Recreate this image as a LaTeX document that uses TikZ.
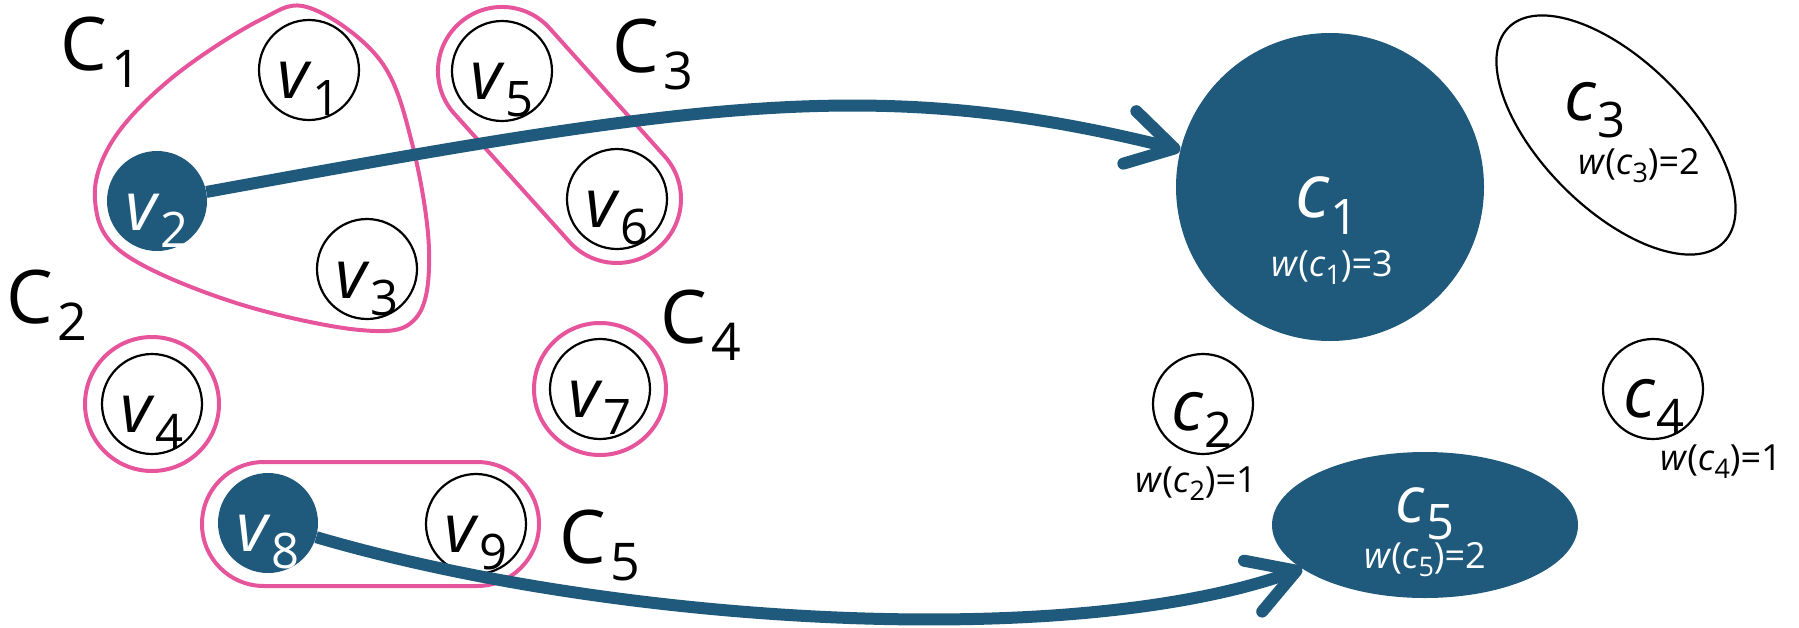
\documentclass[tikz,border=0pt]{standalone}
\usepackage{fontspec}
\setmainfont{Open Sans}
\usetikzlibrary{arrows.meta,shapes.geometric}
\definecolor{cblue}{RGB}{31,90,124}
\definecolor{cpink}{RGB}{230,85,155}
\newcommand\subsc[3]{\raisebox{-#1pt}{\fontsize{#2}{#2}\selectfont #3}}
\newcommand\vlab[1]{\fontsize{68}{68}\selectfont\textit{v}\kern1pt\subsc{17}{49}{#1}}
\newcommand\bigC[1]{\fontsize{74}{74}\selectfont C\kern4pt\subsc{17}{52}{#1}}
\newcommand\clab[2]{\fontsize{#1}{#1}\selectfont\textit{c}\kern1pt\subsc{17}{49}{#2}}
\newcommand\wlab[2]{\fontsize{36}{36}\selectfont\textit{w}(\textit{c}\subsc{8}{27}{#1})=#2}
\begin{document}
\begin{tikzpicture}[x=1pt,y=1pt,
  vert/.style={circle, draw=black, line width=2.2pt, minimum size=100pt, inner sep=0pt, fill=white},
  vfill/.style={circle, fill=cblue, minimum size=100pt, inner sep=0pt},
  hull/.style={draw=cpink, line width=4pt},
  lab/.style={anchor=base, inner sep=0pt},
  link/.style={draw=cblue, line width=12pt, -{Straight Barb[length=46pt,width=54pt,round]}},
]
\useasboundingbox (0,0) rectangle (1799,-627);

% vertices
\node[vert]  (v1) at (309,-70) {};
\node[vfill] (v2) at (157,-201) {};
\node[vert]  (v3) at (367,-269) {};
\node[vert]  (v4) at (152,-404) {};
\node[vert]  (v5) at (502,-71) {};
\node[vert]  (v6) at (617,-199) {};
\node[vert]  (v7) at (600,-389) {};
\node[vfill] (v8) at (268,-523) {};
\node[vert]  (v9) at (476,-524) {};

\node[lab] (v1l) at ([yshift=-28pt]v1.center) {\vlab{1}};
\node[lab, text=white] (v2l) at ([yshift=-29pt]v2.center) {\vlab{2}};
\node[lab] (v3l) at ([yshift=-29pt]v3.center) {\vlab{3}};
\node[lab] (v4l) at ([yshift=-28pt]v4.center) {\vlab{4}};
\node[lab] (v5l) at ([yshift=-28pt]v5.center) {\vlab{5}};
\node[lab] (v6l) at ([yshift=-28pt]v6.center) {\vlab{6}};
\node[lab] (v7l) at ([yshift=-28pt]v7.center) {\vlab{7}};
\node[lab, text=white] (v8l) at ([yshift=-28pt]v8.center) {\vlab{8}};
\node[lab] (v9l) at ([yshift=-28pt]v9.center) {\vlab{9}};

% hulls
\draw[hull] plot[smooth cycle, tension=0.6] coordinates {(310,-8) (380,-60) (412,-143) (429,-250) (416,-318) (360,-330) (233,-302) (123,-253) (95,-200) (113,-140) (173,-77) (260,-20)};
\begin{scope}[shift={(502,-71)}, rotate=-48.06]
  \draw[hull, rounded corners=63.9pt] (-64,-64) rectangle (236,64);
\end{scope}
\draw[hull] (v4.center) circle[radius=67pt];
\draw[hull] (v7.center) circle[radius=66pt];
\draw[hull, rounded corners=61.9pt] (202,-462) rectangle (539,-586);

% cluster labels
\node[lab] (C1l) at (101,-70) {\bigC{1}};
\node[lab] (C2l) at (47,-323) {\bigC{2}};
\node[lab] (C3l) at (653,-72) {\bigC{3}};
\node[lab] (C4l) at (701,-343) {\bigC{4}};
\node[lab] (C5l) at (600,-563) {\bigC{5}};

% contracted graph
\node[circle, fill=cblue, minimum size=308pt, inner sep=0pt] (c1) at (1330,-187) {};
\node[vert] (c2) at (1203,-404) {};
\node[draw, line width=2.2pt, ellipse, minimum width=304pt, minimum height=148pt, inner sep=0pt, rotate=-45] (c3) at (1616,-135) {};
\node[vert] (c4) at (1653,-389) {};
\node[ellipse, fill=cblue, minimum width=306pt, minimum height=146pt, inner sep=0pt] (c5) at (1425,-525) {};

\node[lab, text=white] (c1l) at (1327,-217) {\clab{75}{1}};
\node[lab, text=white] (c1w) at (1332,-276) {\wlab{1}{3}};
\node[lab] (c2l) at (1202,-430) {\clab{70}{2}};
\node[lab] (c2w) at (1196,-492) {\wlab{2}{1}};
\node[lab] (c3l) at (1595,-120) {\clab{70}{3}};
\node[lab] (c3w) at (1639,-174) {\wlab{3}{2}};
\node[lab] (c4l) at (1654,-417) {\clab{70}{4}};
\node[lab] (c4w) at (1721,-470) {\wlab{4}{1}};
\node[lab, text=white] (c5l) at (1425,-522) {\clab{64}{5}};
\node[lab, text=white] (c5w) at (1425,-568) {\wlab{5}{2}};

% mapping arrows
\draw[link] (v2) .. controls (703,-101) and (878,-75) .. (c1);
\draw[link] (v8) .. controls (612,-624) and (1068,-652) .. (c5);
\end{tikzpicture}
\end{document}
